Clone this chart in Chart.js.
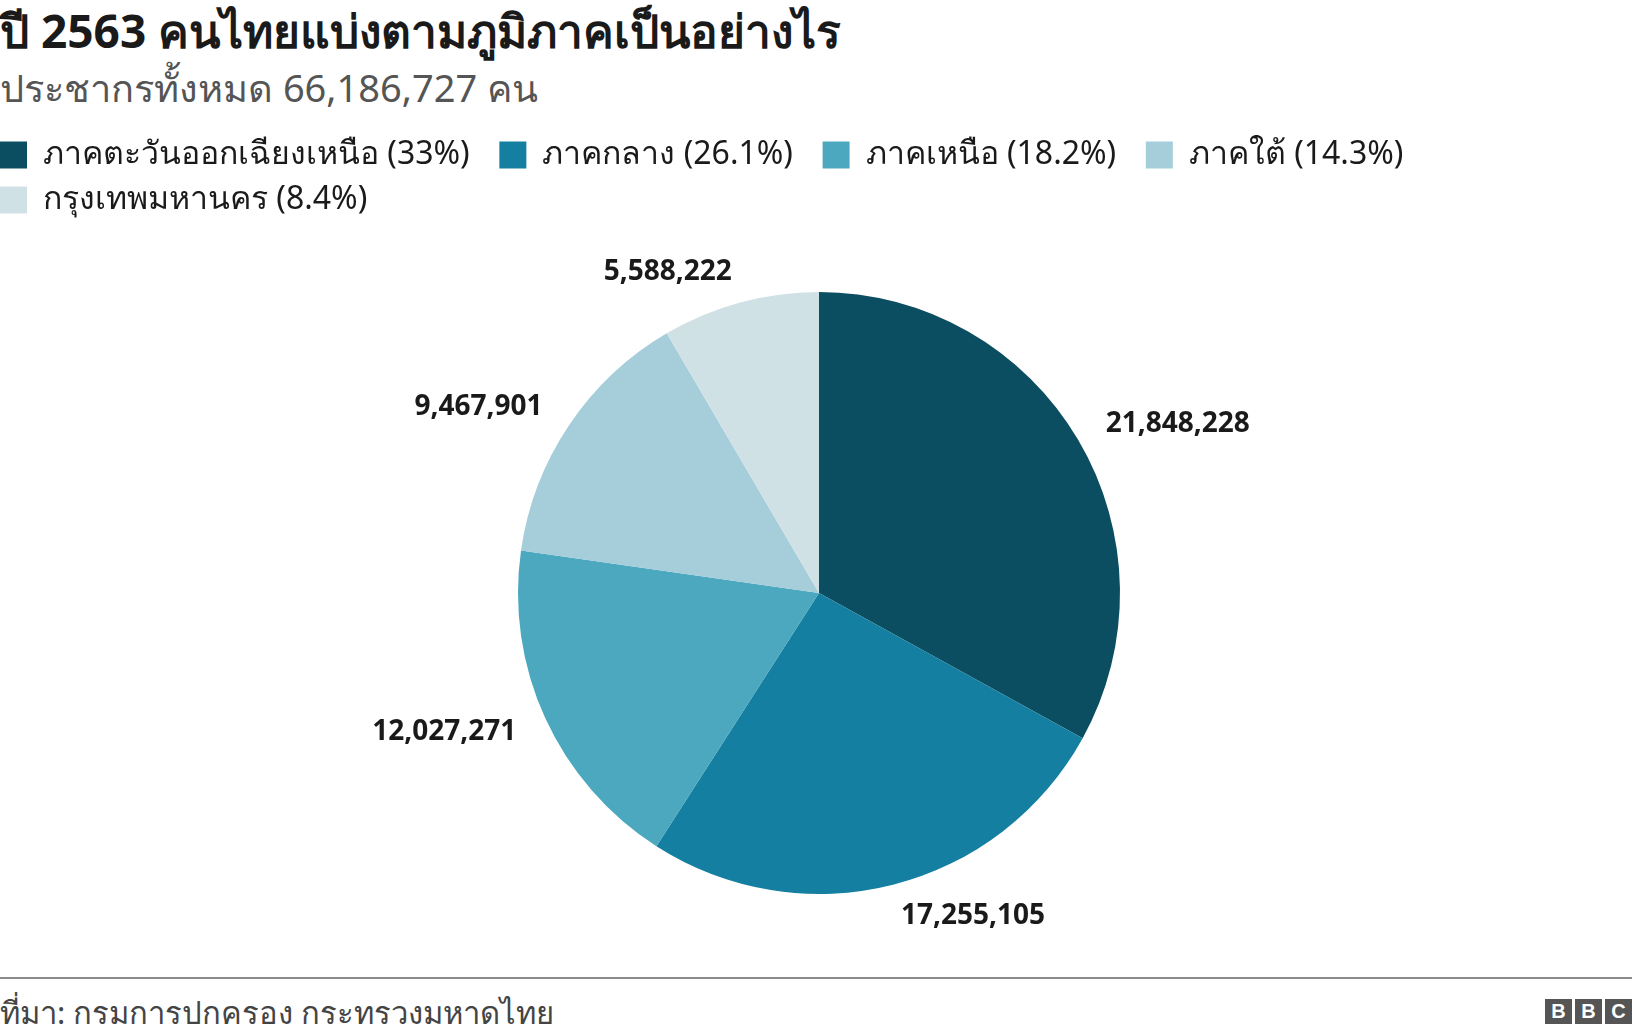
<!DOCTYPE html>
<html>
<head>
<meta charset="utf-8">
<script src="https://cdn.jsdelivr.net/npm/chart.js@4/dist/chart.umd.min.js"></script>
<style>
  html, body { margin: 0; padding: 0; background: #fff; }
  body { width: 1632px; height: 1034px; position: relative; overflow: hidden;
         font-family: Tahoma, "Noto Sans", "DejaVu Sans", sans-serif; }
  #title { position: absolute; left: 0; top: -5px; font-size: 46px; font-weight: bold; color: #1a1a1a; white-space: nowrap; }
  #subtitle { position: absolute; left: 0; top: 58px; font-size: 38px; color: #555; white-space: nowrap; }
  #wrap { position: absolute; left: -13px; top: 126px; width: 1664px; height: 834px; }
  #footline { position: absolute; left: 0; top: 977px; width: 1632px; height: 2px; background: #8a8a8a; }
  #source { position: absolute; left: 0; top: 988px; font-size: 31px; color: #444; white-space: nowrap; }
  #bbc { position: absolute; right: 0; top: 999px; display: flex; gap: 3px; }
  #bbc span { display: block; width: 27px; height: 25px; background: #555; color: #fff;
              font: bold 20px Arial, "Liberation Sans", sans-serif; text-align: center; line-height: 25px; }
</style>
</head>
<body>
<div id="title">ปี 2563 คนไทยแบ่งตามภูมิภาคเป็นอย่างไร</div>
<div id="subtitle">ประชากรทั้งหมด 66,186,727 คน</div>
<div id="wrap"><canvas id="pieChart"></canvas></div>
<div id="footline"></div>
<div id="source">ที่มา: กรมการปกครอง กระทรวงมหาดไทย</div>
<div id="bbc"><span>B</span><span>B</span><span>C</span></div>

<script>
// --- data ---
const regions = ['ภาคตะวันออกเฉียงเหนือ', 'ภาคกลาง', 'ภาคเหนือ', 'ภาคใต้', 'กรุงเทพมหานคร'];
const shares = ['33%', '26.1%', '18.2%', '14.3%', '8.4%'];
const population = [21848228, 17255105, 12027271, 9467901, 5588222];
const colors = ['#0b4e61', '#147fa0', '#4ba8bf', '#a5cdda', '#d0e1e6'];

// labels outside the slices
const outsideLabels = {
  id: 'outsideLabels',
  afterDatasetsDraw(chart) {
    const { ctx } = chart;
    const meta = chart.getDatasetMeta(0);
    ctx.save();
    ctx.font = 'bold 28px Tahoma, "Noto Sans", "DejaVu Sans", sans-serif';
    ctx.fillStyle = '#1a1a1a';
    ctx.textBaseline = 'middle';
    meta.data.forEach((arc, i) => {
      const mid = (arc.startAngle + arc.endAngle) / 2;
      const r = arc.outerRadius + 32;
      const x = arc.x + Math.cos(mid) * r;
      const y = arc.y + Math.sin(mid) * r;
      ctx.textAlign = Math.cos(mid) >= 0 ? 'left' : 'right';
      ctx.fillText(population[i].toLocaleString('en-US'), x, y);
    });
    ctx.restore();
  }
};

new Chart(document.getElementById('pieChart'), {
  type: 'pie',
  data: {
    // trailing spaces widen the gap between legend items
    labels: regions.map((r, i) => `${r} (${shares[i]})  `),
    datasets: [{
      data: population,
      backgroundColor: colors,
      borderWidth: 0,
      radius: 301
    }]
  },
  options: {
    responsive: true,
    maintainAspectRatio: false,
    animation: false,
    plugins: {
      legend: {
        position: 'top',
        align: 'start',
        labels: {
          boxWidth: 27,
          boxHeight: 27,
          padding: 13,
          color: '#1a1a1a',
          font: { size: 32, family: 'Tahoma, "Noto Sans", "DejaVu Sans", sans-serif' }
        }
      },
      tooltip: { enabled: false }
    }
  },
  plugins: [outsideLabels]
});
</script>
</body>
</html>
